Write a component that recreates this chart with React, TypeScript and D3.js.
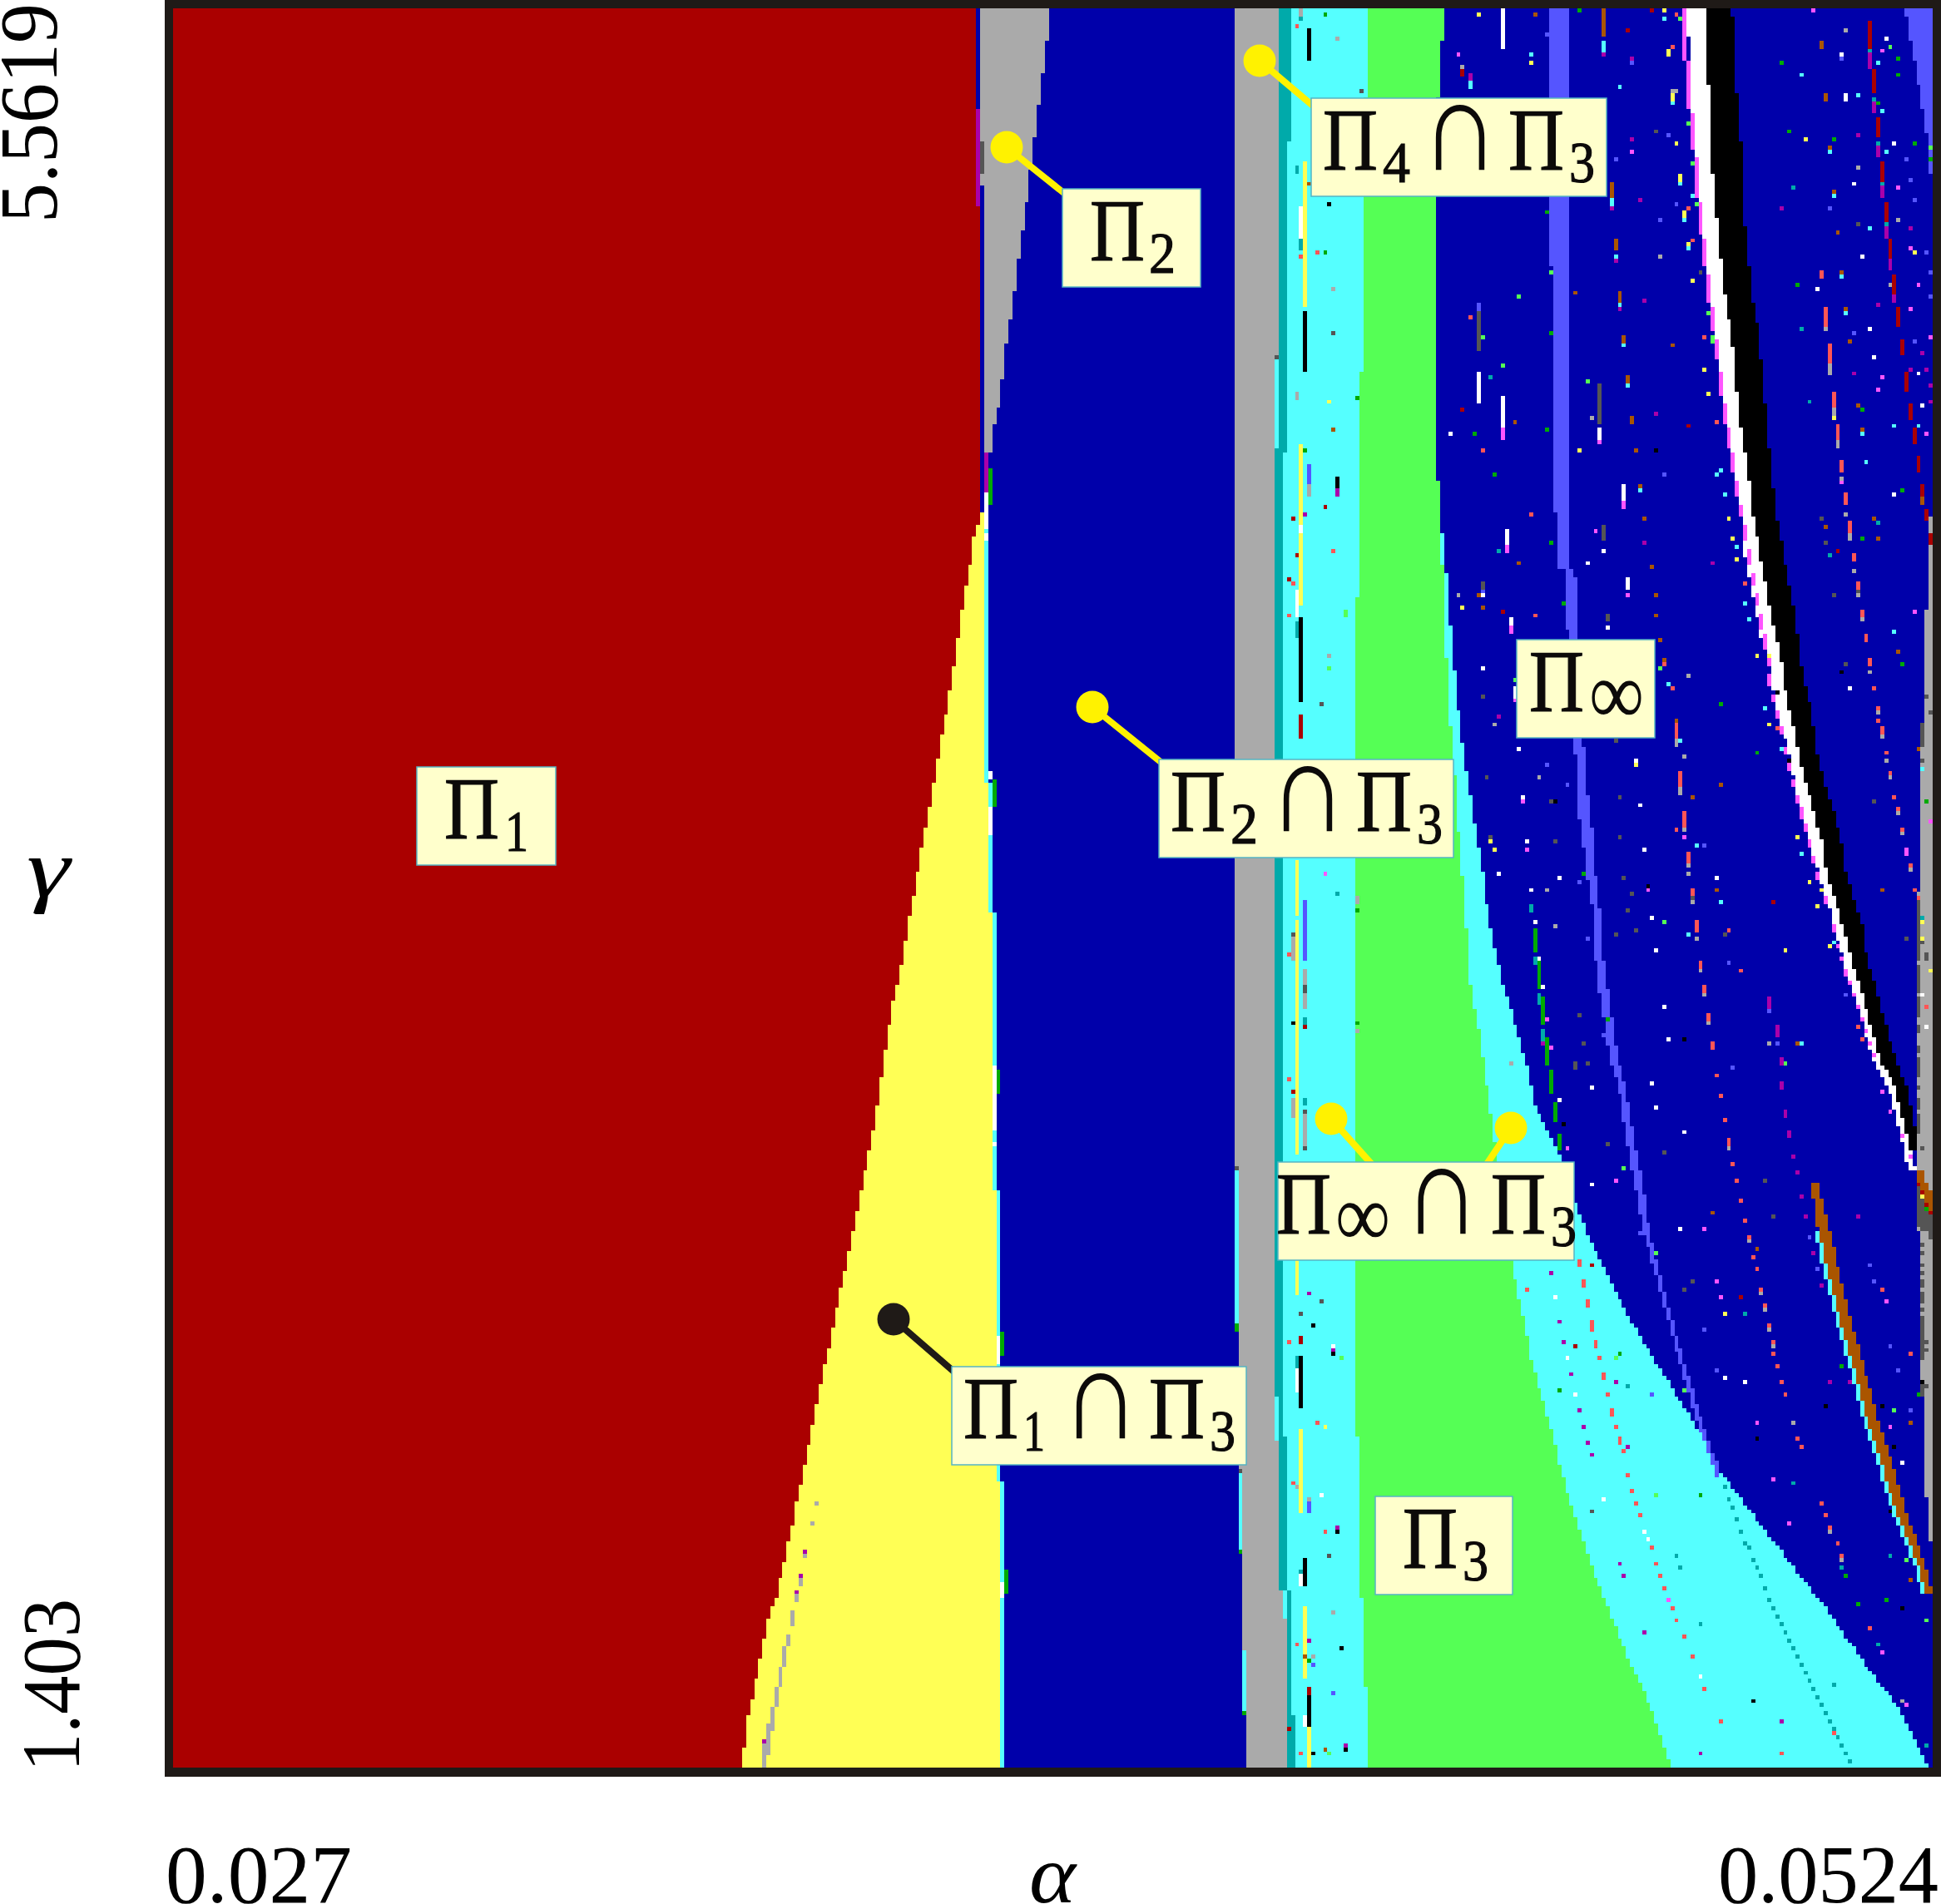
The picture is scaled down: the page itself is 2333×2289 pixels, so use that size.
import React from "react";
import * as d3 from "d3";

// parameter sweep: 436 x 436 samples, row 0 is the top (largest gamma)
const GRID = 436;
const alphaTicks = [0.027, 0.0524];
const gammaTicks = [5.5619, 1.403];
const alphaLabels = ["0.027", "0.0524"];
const gammaLabels = ["5.5619", "1.403"];

// region edges as [row, col]
const redEdge = [[0,199.3],[47.9,199.3],[48,200.3],[126,200.4],[131,198.5],[138,197.5],[149.5,195.4],[162.4,193.6],[173.6,191.7],[185,189.7],[196,187.8],[207,185.7],[218,183.9],[229,181.8],[240,180],[249,177.9],[261,176],[274,174.2],[285,172.1],[293.5,170.3],[304,168.2],[313,166.4],[323,164.3],[332,162.4],[341.6,160.4],[350.6,158.5],[360,156.7],[370,154.6],[379,152.8],[388,150.7],[393.7,149.7],[397.4,147.8],[406.7,146],[416.6,143.9],[425.9,142],[436,141]];
const yellowEdge = [[125,201.4],[190,201.4],[205,202.2],[270,203.2],[360,204.4],[395,205.1],[436,205.1]];
const wedgeLeft = [[0,200.3],[43.9,200.3],[44,201.3],[113,201.3]];
const wedgeRight = [[0,216.9],[5,216.9],[12,216],[20,215],[28.4,214],[35.5,213],[43.7,212.1],[50.7,211.1],[58,210],[65,209.2],[72,208.2],[79,207.2],[86,206.1],[93.4,205.3],[100.6,204.3],[105,203],[113,202.2]];
const gray2Left = [[0,262.6],[287.9,262.6],[288,263.7],[361.9,263.7],[362,264.7],[406.9,264.7],[407,265.5],[436,265.5]];
const gray2Right = [[0,274.4],[86.9,274.4],[87,273.3],[353.9,273.3],[354,274.4],[391.9,274.4],[392,275.6],[422.9,275.6],[423,276.2],[436,276.2]];
const tealRight = [[0,277.3],[32.9,277.3],[33,276.3],[109.9,276.3],[110,275.2],[353.9,275.2],[354,276.3],[391.9,276.3],[392,277.3],[422.9,277.3],[423,278.2],[436,278.2]];
const greenLeft = [[0,295.8],[21.9,295.8],[22,294.8],[89.9,294.8],[90,293.8],[145.9,293.8],[146,292.9],[353.9,292.9],[354,293.8],[393.9,293.8],[394,294.6],[415.9,294.6],[416,295.8],[436,295.8]];
const greenRight = [[0,315.2],[7.9,315.2],[8,314.3],[21.9,314.3],[22,313.3],[116.9,313.3],[117,314.3],[136,314.3],[143,315.2],[160,315.2],[162,316.2],[177,316.2],[179,317.2],[186,317.2],[213,319.1],[218,320.1],[228,320.1],[229,321.2],[241,321.2],[243,322],[247,322],[249,323],[255.6,323.8],[262.7,324.9],[270.4,325.9],[278,327.1],[311.2,332],[318.3,333],[321.9,333.9],[329,335.6],[336,336.7],[344.4,339.4],[353.8,341.9],[360.9,343.5],[368,345.5],[375.1,347.8],[385.8,351.4],[397.6,356],[409.4,360.7],[421.3,366.3],[429.6,369.2],[436,370.9]];
const cyanRight = [[0,313],[117,313],[136,315.2],[149.5,316.2],[160.4,317.2],[170.5,318.1],[179,319.1],[186,320.1],[193,321.2],[199.3,322],[205,323],[211.5,324],[216.6,324.9],[225.7,325.9],[243,329.8],[255.6,333.7],[262.7,335.6],[271,337.2],[282.8,343],[297,347.8],[306.5,351.7],[314.8,355.8],[326.6,362],[338.4,369.2],[350.3,376.8],[362.1,383.2],[373.9,391.9],[385.8,401.1],[397.6,410.4],[409.4,418.5],[421.3,427.7],[433.1,433.5],[436,435]];
const periLeft = [[0,340.5],[63.9,340.5],[64,341.6],[100.9,341.6],[101,342.4],[124.6,342.4],[124.7,343.4],[138.9,343.4],[139,344.5],[181,347.3],[199.9,348.3],[206.8,349.4],[213.8,350.2],[220.6,351.3],[227.4,352.3],[234.4,352.3],[241,353.1],[248,354.2],[255,355.2],[261,356.2],[267.4,358.2],[279.3,360],[291.1,362.1],[302.9,364.3],[314.8,367.7],[326.6,370.8],[338.4,374.1],[350.3,377.6],[362.1,382],[364.5,382.5]];
const periRight = [[0,346.3],[13.9,346.3],[14,345.5],[110.9,345.5],[111,346.3],[138.9,346.3],[139,347.4],[181,349.4],[193,350.2],[200,351.3],[213.8,352.3],[220.6,353.1],[227.4,354.2],[234.4,354.2],[241,355.2],[248,356.2],[255,357.1],[261,358.2],[267.4,360],[279.3,361.9],[291.1,364],[302.9,365.8],[314.8,368.7],[326.6,371.8],[338.4,375.3],[350.3,378.8],[362.1,383.2],[364.5,383.6]];
const blackLeft = [[0,379.5],[8.5,379.5],[19,380.5],[29.5,381.4],[40,381.4],[50.5,382.4],[61,383.4],[71.5,384.5],[82,386.3],[92.6,387.3],[103,388.3],[113.6,390.2],[124,391.2],[134.6,393.1],[145,395],[155.6,397.1],[158.7,398.1],[165.5,399],[172.6,400],[179.4,402],[186,403],[193,404.9],[200,406.7],[206.8,408.8],[213.8,409.6],[220.6,411.7],[227.4,413.7],[234.4,415.6],[241,417.5],[248,419.5],[255,421.4],[261,423.2],[267.4,426.6],[279.3,429.6],[288,431.8]];
const blackRight = [[0,386.3],[8.5,387.3],[19,387.3],[29.5,388.2],[40,389.2],[50.5,389.2],[61,390.2],[71.5,391.3],[82,393.1],[92.6,394],[103,395],[113.6,395.9],[124,397],[134.6,398.9],[145,401],[155.6,402.6],[165.5,403.8],[172.6,405.7],[179.4,406.7],[186,407.7],[193,409.6],[200,411.7],[206.8,413.5],[213.8,414.5],[220.6,416.4],[227.4,418.5],[234.4,419.5],[241,421.4],[248,423.2],[255,425.3],[261,427.1],[267.4,429.5],[279.3,431.9],[283.4,432]];
const whiteLeft = [[0,374.7],[8.5,375.7],[29.5,375.7],[29.6,376.8],[40,377.6],[50.6,378.6],[61,379.7],[71.7,380.7],[82,382.5],[92.7,383.6],[103,384.5],[113.8,386.4],[124.3,388.4],[135,389.4],[145.4,391.4],[155.9,393.3],[158.7,394.9],[165.6,396],[172.4,397.1],[179.3,398.9],[186.2,400.9],[193,402],[200,403.8],[206.8,405.7],[213.7,407.6],[220.6,409.7],[227.4,411.6],[234.3,413.5],[241.2,415.5],[248,417.5],[254.9,419.5],[261.1,421.3],[267.4,425],[279.3,428],[288,430]];
const brownLeft = [[290.5,405.7],[302.9,407.7],[314.8,410.4],[326.6,413.5],[338.4,416.8],[350.3,419.9],[362.1,423.7],[373.9,427.6],[385.8,432.4],[392.9,434.2]];
const brownRight = [[290.5,407.5],[302.9,410.4],[314.8,413.3],[326.6,416.2],[338.4,419.4],[350.3,422.6],[362.1,426.4],[373.9,429.9],[385.8,434.2],[392.9,436]];
const stripLeft = [[126,435],[148.9,435],[149,434],[177.9,434],[178,433],[218.9,433],[219,432],[302.9,432],[303,433],[343.9,433],[344,434],[368.9,434],[369,435],[380,435]];
const cornerLeft = [[0,429.2],[5.8,430],[11,431.1],[17,432.1],[23,433.2],[29.5,434.2],[33.6,435.2],[41,435.2]];
const fullRight = [[0,GRID],[GRID,GRID]];
const leftSide = [[0,0],[GRID,0]];

// stray sample cells: [col, row, run length]
const cellsYellow = [[323,1],[336,13],[404,32],[431,60],[372,33],[376,67],[379,89],[380,95],[385,126],[386,131],[387,136],[411,101],[319,148],[348,109],[392,160],[369,0],[371,21,2],[373,41,2],[374,50,2],[375,58],[370,10,2],[392,160],[395,160],[395,177],[402,205],[405,216],[408,218],[407,222],[410,232],[399,233],[326,206],[327,208],[362,187],[433,226],[433,230],[435,238],[286,97],[285,351],[384,323],[280,38,36],[279,108,20],[279,130,18],[278,211,14],[278,226,58],[278,310,9],[279,352,21],[280,396,18],[281,426,10],[433,294]];
const cellsCyan = [[371,23],[373,43],[374,52],[375,59],[336,11],[358,19],[403,16],[422,13],[417,21],[423,25],[424,35],[357,61],[376,46],[420,54],[426,103],[432,103],[419,112],[382,115],[383,114],[384,120],[387,133],[389,147],[390,151],[426,154],[369,2],[354,8,3],[321,18,2],[356,47,2],[358,73],[359,83],[360,93],[363,119],[411,46],[410,35],[413,66],[414,75],[418,105],[370,167],[394,173],[398,183],[433,188],[373,181],[377,207],[403,209],[383,221],[375,229],[411,231],[403,256],[263,288,38],[264,363,19],[273,87,22],[265,407,15],[275,392,7],[273,344,11]];
const cellsWhite = [[424,7],[413,11],[414,21,2],[426,33],[418,61],[407,69],[420,79],[421,86],[432,90],[433,98],[316,105],[426,120],[354,134],[350,137],[416,43],[329,0,10],[323,90,8],[329,96,8],[353,104,3],[359,118,4],[330,129,4],[360,141,3],[331,151,2],[324,145],[355,153],[324,163],[332,168,3],[333,183],[362,186],[334,195],[363,197],[335,206],[364,208],[328,214],[343,215],[382,215],[336,218],[366,225],[337,226],[367,233],[338,235],[339,242],[369,247],[370,255],[415,168],[433,244],[434,252],[279,49,8],[279,128,2],[278,144,7],[278,337,6],[279,388,3],[280,423,3],[287,331],[284,368],[364,377],[365,379],[378,413],[342,319],[345,334],[347,343],[354,369],[351,267],[366,266],[367,272],[374,278],[351,291],[373,302],[384,339],[389,340],[343,270],[428,360],[201,120,9],[201,130,2],[202,189,2],[202,198,7],[203,262,4],[203,266,12],[203,281],[204,329,7],[205,390,4]];
const cellsMagenta = [[318,11],[361,35],[423,10],[427,44],[430,59],[432,68],[430,74],[423,91],[422,94],[434,105],[352,129],[431,149],[406,0],[435,81],[329,104,3],[353,107],[359,122,2],[330,133,2],[360,145],[331,153,2],[413,117],[332,171],[334,196],[335,208],[365,218],[374,205],[340,250],[341,257],[435,201],[429,208,2],[285,214],[370,394],[379,302],[382,315],[383,319],[357,290],[345,282],[400,375],[392,350],[396,364],[423,407],[429,420],[424,320],[425,351],
  [374,0,13],[375,13,12],[376,26,9],[377,37,10],[378,48,8],[379,57,7],[380,66,7],[381,74,6],[382,82,5],[383,90,6],[384,98,5],[385,104,5],[386,110,5],[387,117,4],[388,123,3],[389,128,4],[390,134,4],[391,140,3],[392,145,3],[393,150,4],[394,155,4],[395,161,2],[395,165,3],[396,170,2],[397,174,2],[398,178,2],[399,183,2],[400,187,2],[401,191,2],[402,195,2],[403,198,3],[404,202,2],[405,206,2],[406,210,2],[407,214,2],[409,220,2],[411,227,2],[412,232],[413,235],[414,238,2],[415,241],[416,244],[417,247],[418,250],[419,253],[420,256],[421,259],[423,268],[425,273],[428,279],[430,284]];
const cellsPurple = [[361,32],[363,47],[361,12],[417,31],[398,49],[430,54],[364,72],[422,73],[433,85],[430,89],[434,89],[435,93],[435,97],[367,100],[381,137],[354,11],[356,49],[357,62],[358,74],[416,90],[364,132],[321,16,2],[420,11,4],[421,23,3],[422,34,3],[423,44,3],[424,54,3],[425,62,3],[426,71,2],[328,175],[339,256],[395,245,3],[397,252,3],[398,260,2],[288,119,2],[280,125],[281,318],[287,332],[288,376],[281,404],[290,430],[341,313],[343,325],[344,330],[346,338],[348,347],[349,351],[350,355],[351,358],[357,340],[360,356],[358,385],[359,388],[364,402],[378,432],[398,424],[398,266,2],[399,273,2],[400,278,2],[401,284],[402,288],[404,299],[417,299],[410,340],[415,340],[408,316],[406,308],[403,294],[201,110,10],[199,25,24],[156,382],[155,388],[154,392],[146,429]];
const cellsBlue = [[361,13],[413,12],[370,31],[357,37],[429,37],[368,52],[410,49],[430,42],[431,47],[372,48],[434,60],[435,65],[435,71],[416,80],[431,82],[369,115],[323,73,2],[324,144],[340,187],[345,192],[379,207],[348,216],[350,230],[385,236],[354,254],[414,244],[395,248],[397,256],[282,34,5],[281,113,5],[280,221,15],[281,370,3],[282,410],[287,417],[363,303],[379,327],[382,337],[420,311],[421,315],[405,304],[425,331],[427,337],[430,347],[407,312],[366,343],[386,262]];
const cellsDarkGreen = [[398,13],[427,12],[427,16],[411,32],[400,30],[431,33],[422,23],[435,37],[402,68],[340,50],[341,80],[340,104],[322,105],[327,115],[428,119],[341,132],[344,147],[428,162],[418,131],[418,99],[348,0],[383,172],[392,184],[349,214],[434,196],[355,250],[285,1],[285,60],[293,96],[280,109],[293,223],[293,251],[281,409],[343,342],[358,333],[378,368],[424,394],[417,395],[413,336],[432,343],[414,388],[434,297],[202,114,9],[203,191,7],[204,263,6],[205,328,6],[206,387,6],[263,326,2],[264,382],[265,422],[337,228,6],[338,236,7],[339,245,7],[340,255,7],[341,263,6],[342,271,5],[343,279,4]];
const cellsLightGreen = [[425,9],[333,71],[329,88],[350,92],[324,81],[341,65],[435,34],[373,2],[375,28],[376,38],[377,48],[380,75],[381,81,2],[368,163],[332,166],[369,226],[399,261],[286,163],[290,149,2],[289,334],[286,432],[357,334],[367,368],[374,342],[359,287],[367,308],[426,347],[429,384],[434,399]];
const cellsBrown = [[354,0,7],[356,43,4],[357,57,3],[358,70,3],[359,81,2],[360,91,2],[361,101,2],[408,8,2],[409,21,2],[337,1],[410,34],[411,45],[412,55],[413,65],[414,74],[415,82],[417,98],[418,104],[347,70],[332,102],[371,83],[362,109],[364,126],[409,128],[421,126],[422,131],[333,137],[366,138],[367,145],[367,150],[323,145],[324,148],[368,156],[363,118],[433,121,2],[427,159],[369,161],[372,176],[383,192],[376,195],[382,218],[423,218],[432,183],[402,256],[281,43],[287,104],[280,408],[285,431],[381,298],[392,307],[430,350],[430,389],[432,288,4],[433,288,5],[434,291,5],[435,293,5]];
const cellsRed = [[371,9],[375,49],[376,57],[408,65,2],[321,76],[336,125],[389,142],[337,150],[420,162],[372,1],[379,81],[382,102],[324,109],[369,162],[371,168],[397,178],[421,168],[372,203],[385,228],[388,238],[426,195],[431,218],[434,247],[417,252],[418,255],
  [409,74,5],[410,83,5],[411,95,4],[412,103,4],[413,112,3],[414,120,3],[415,127,3],[416,135,2],[417,142,2],[418,149,2],[419,155,2],[420,161,2],[422,173],[422,176],[423,178,2],[424,184],[425,189],[427,198],[428,203],[430,212],[432,220],[372,177,4],[373,189,4],[374,199,4],[375,209,3],[376,218,2],[377,226,3],[378,236,2],[379,242,2],[380,249,2],[381,256,2],
  [278,4],[279,61],[283,60],[287,134],[277,142],[276,150],[276,234],[276,265],[276,330],[283,350],[277,365],[285,377],[278,405],[279,432],[348,310,2],[349,315,2],[350,320,2],[351,325,3],[352,330,2],[353,334],[354,338,2],[355,343],[356,347,2],[357,351],[358,354,2],[359,357],[360,363],[361,367],[362,370],[363,373],[366,381],[367,385],[368,388],[369,391],[371,396],[372,399],[374,403],[376,408],[379,416],[383,424],[398,432],[411,427],[335,317],
  [382,264],[383,269],[384,275],[385,280,2],[386,286],[387,290],[388,295],[389,300],[390,304],[391,309],[392,312],[393,317],[394,321],[395,326],[396,330],[396,333],[397,336],[398,340],[399,343],[402,354],[403,356],[408,370],[409,373],[410,376],[412,380],[413,383],[420,401],[430,333],[423,317]];
const cellsDarkRed = [[360,5],[366,0],[375,103],[319,99],[329,149],[412,134],[319,15,2],[420,3,7],[421,15,6],[422,27,5],[423,38,5],[424,48,5],[425,57,5],[426,66,5],[427,74,5],[428,82,4],[429,90,5],[430,98,4],[431,104,4],[432,111,4],[433,118,3],[434,124,3],[435,130,3],[396,221],[285,123],[277,126],[278,135],[276,141],[279,175,6],[280,252],[281,416,2],[279,329,2],[277,268],[276,426],[347,331],[351,311],[388,319],[432,291],[433,293],[434,296],[435,298]];
const cellsDarkGray = [[367,30],[417,53],[378,65],[408,126],[409,132],[411,145],[323,75,10],[353,93,10],[354,128,4],[324,142,2],[355,150,2],[417,144],[414,162],[324,170],[325,190],[357,181],[358,195],[341,196],[421,196],[326,205],[342,206],[358,205],[359,215],[361,219],[360,223],[362,228],[357,229],[384,229],[429,230],[348,249],[349,256],[347,261],[350,261],[294,20],[287,80],[284,172],[277,229],[280,242,2],[280,273],[280,282],[284,320],[279,323],[286,383],[273,86],[263,287],[264,362],[351,372],[347,262],[355,281],[369,283],[376,315],[374,317],[396,299],[394,290],[376,220],
  [433,177,6],[433,186],[434,170],[435,174],[432,220,16],[432,237,7],[432,245,5],[432,252,2],[432,257,2],[432,260,2],[434,234,2],[433,231],[432,262,3],[432,267],[432,270,3],[432,274,5],[433,282],[432,292,10],[433,294,9],[434,298,5],[435,299,6],[433,306],[433,308],[433,311],[433,313],[433,315,2],[433,318,3],[433,322],[433,324,11],[434,330],[434,332],[433,340,4],[434,341],[200,33,8]];
const cellsGray = [[414,5],[371,20],[372,20],[368,61],[427,52],[425,68],[351,101],[414,125],[416,139],[318,145],[417,39],[319,14],[409,79],[410,88,3],[411,99,3],[412,107,2],[413,116],[415,130,2],[417,145],[418,151],[375,165],[327,177],[374,185],[338,190],[375,214],[340,218],[342,227],[395,256],[331,261],[372,181,2],[373,193,2],[374,203],[375,212],[376,221],[377,230],[378,238],[379,244],[380,251],[420,164],[422,174],[423,180],[424,186],[425,190],[427,199],[428,204],[430,213],[432,221],
  [282,39,3],[281,118,3],[279,0,2],[278,95,2],[288,7],[287,69],[286,160],[293,220,2],[293,253],[280,238,4],[280,244,4],[277,230,6],[277,270,5],[280,274,8],[281,369],[278,366],[287,397],[282,408],[385,282],[390,305],[393,318],[394,322],[395,327],[396,331],[401,350],[410,377],[413,384],[428,419],
  [159,370],[158,375],[156,383],[155,389,2],[154,393,2],[153,397,4],[152,403,3],[151,406,5],[150,411,5],[149,416,5],[148,421,6],[147,425,8],[146,430,6]];
const cellsTeal = [[401,44],[326,91],[403,79],[405,97],[422,127],[328,134],[410,135],[420,10],[421,22],[422,33],[423,43],[424,53],[336,222,2],[337,235,2],[338,244,3],[339,253,3],[433,225],[279,57,3],[278,39,2],[279,2],[278,152,4],[280,250,2],[278,334,3],[279,387],[280,270,2],[288,219],[360,341],[372,383],[373,386],[378,400],[411,415],[389,323],[401,365],[413,386],[422,405],[425,383],[434,430],
  [384,366],[385,369],[386,371],[387,374],[388,377],[389,380],[390,381],[391,384],[392,386],[393,388],[394,391],[395,394],[396,396],[397,398],[398,400],[399,402],[400,404],[401,406],[402,408],[403,410],[404,412],[405,414],[406,416],[407,418],[408,420],[409,422],[410,424],[411,426],[412,428],[413,430],[414,432],[415,434]];
const cellsBlack = [[367,109],[413,164],[397,169],[342,196],[400,186],[365,217],[374,255],[281,5,8],[280,75,15],[288,116,3],[286,48],[279,151,21],[277,251],[279,334,13],[280,384,7],[281,418,8],[282,326],[287,333],[288,377],[289,406],[290,431],[282,432],[391,419],[344,276],[409,346],[392,354],[423,346],[426,356],[425,372],[428,396],[433,340]];

const PAL = {
  red: "#aa0000", blue: "#0000aa", gray: "#aaaaaa", cyan: "#55ffff", green: "#55ff55",
  yellow: "#ffff55", teal: "#00aaaa", peri: "#5555ff", brown: "#aa5500", magenta: "#ff55ff",
  purple: "#aa00aa", darkGreen: "#00aa00", lightRed: "#ff5555", darkGray: "#555555",
};
const INK = "#1f1a17";
const PLOT = { left: 208, top: 10, right: 2323, bottom: 2125, border: 10 };

const xCell = d3.scaleLinear().domain([0, GRID]).range([PLOT.left, PLOT.right]);
const yCell = d3.scaleLinear().domain([0, GRID]).range([PLOT.top, PLOT.bottom]);
const xAlpha = d3.scaleLinear().domain(alphaTicks).range([PLOT.left, PLOT.right]);
const yGamma = d3.scaleLinear().domain(gammaTicks).range([PLOT.top, PLOT.bottom]);

const edge = (knots: number[][]) =>
  d3.scaleLinear().domain(knots.map((k) => k[0])).range(knots.map((k) => k[1])).clamp(true);

// one stair step per row, like the sweep that made the picture
function bandPath(left: number[][], right: number[][], from: number, to: number, rightShift = 0) {
  const l = edge(left);
  const r = right === left ? l : edge(right);
  const p = d3.path();
  d3.range(from, to).forEach((row) => {
    const a = Math.round(l(row + 0.5));
    const b = Math.round(r(row + 0.5)) + rightShift;
    if (b <= a) return;
    p.rect(xCell(a), yCell(row), xCell(b) - xCell(a), yCell(row + 1) - yCell(row));
  });
  return p.toString();
}

function cellsPath(cells: number[][]) {
  const p = d3.path();
  cells.forEach(([col, row, len = 1]) => {
    p.rect(xCell(col), yCell(row), xCell(col + 1) - xCell(col), yCell(row + len) - yCell(row));
  });
  return p.toString();
}

const bands: [string, string][] = [
  [PAL.red, bandPath(leftSide, redEdge, 0, GRID)],
  [PAL.yellow, bandPath(redEdge, yellowEdge, 125, GRID)],
  [PAL.cyan, bandPath(yellowEdge, yellowEdge, 125, GRID, 1)],
  [PAL.gray, bandPath(wedgeLeft, wedgeRight, 0, 113)],
  [PAL.gray, bandPath(gray2Left, gray2Right, 0, GRID)],
  [PAL.cyan, bandPath(gray2Right, cyanRight, 0, GRID)],
  [PAL.teal, bandPath(gray2Right, tealRight, 0, GRID)],
  [PAL.green, bandPath(greenLeft, greenRight, 0, GRID)],
  [PAL.peri, bandPath(periLeft, periRight, 0, 364)],
  [PAL.peri, bandPath(cornerLeft, fullRight, 0, 41)],
  ["#ffffff", bandPath(whiteLeft, blackLeft, 0, 288)],
  ["#000000", bandPath(blackLeft, blackRight, 0, 283)],
  [PAL.gray, bandPath(stripLeft, fullRight, 126, 380)],
  [PAL.cyan, bandPath(brownLeft.map(([r, c]) => [r, c - 1]), brownLeft, 303, 393)],
  [PAL.brown, bandPath(brownLeft, brownRight, 291, 393)],
];

const strayCells: [string, number[][]][] = [
  [PAL.gray, cellsGray], [PAL.darkGray, cellsDarkGray], [PAL.cyan, cellsCyan], [PAL.yellow, cellsYellow],
  ["#ffffff", cellsWhite], [PAL.magenta, cellsMagenta], [PAL.purple, cellsPurple], [PAL.peri, cellsBlue],
  [PAL.darkGreen, cellsDarkGreen], [PAL.green, cellsLightGreen], [PAL.brown, cellsBrown], [PAL.lightRed, cellsRed],
  [PAL.red, cellsDarkRed], [PAL.teal, cellsTeal], ["#000000", cellsBlack],
];

// annotation layout in page pixels: box, glyph runs (offset, width), pin and leader end
const PI = "\u03a0";
const CAP = "\u2229";
const INF = "\u221e";
const triple = (a: string, aw = 33) => [
  { t: PI, dx: 14, w: 66 }, { t: a, dx: 86, w: aw, sub: true },
  { t: CAP, dx: 132, w: 94, cap: true }, { t: PI, dx: 237, w: 67 }, { t: "3", dx: 310, w: 31, sub: true },
];
const labels = [
  { x: 501, y: 922, w: 167, runs: [{ t: PI, dx: 33, w: 66 }, { t: "1", dx: 106, w: 28, sub: true }] },
  { x: 1277, y: 227, w: 166, runs: [{ t: PI, dx: 33, w: 66 }, { t: "2", dx: 104, w: 32, sub: true }] },
  { x: 1576, y: 118, w: 355, runs: triple("4"), pin: [1514, 73], end: [1585, 133], color: "#fff200" },
  { x: 1393, y: 913, w: 354, runs: triple("2"), pin: [1313, 850], end: [1400, 920], color: "#fff200" },
  { x: 1823, y: 769, w: 166, runs: [{ t: PI, dx: 15, w: 66 }, { t: INF, dx: 87, w: 66, sub: true, inf: true }] },
  { x: 1653, y: 1799, w: 165, runs: [{ t: PI, dx: 33, w: 66 }, { t: "3", dx: 105, w: 31, sub: true }] },
  { x: 1144, y: 1643, w: 354, runs: triple("1", 26), pin: [1074, 1586], end: [1150, 1652], color: INK },
  {
    x: 1536, y: 1397, w: 356,
    runs: [
      { t: PI, dx: -2, w: 66 }, { t: INF, dx: 69, w: 66, sub: true, inf: true },
      { t: CAP, dx: 151, w: 92, cap: true }, { t: PI, dx: 256, w: 66 }, { t: "3", dx: 328, w: 31, sub: true },
    ],
  },
];
const BOX_H = 118;
const pins = [
  { pin: [1210, 177], end: [1290, 241], color: "#fff200" },
  { pin: [1600, 1345], end: [1650, 1401], color: "#fff200" },
  { pin: [1816, 1356], end: [1786, 1401], color: "#fff200" },
  ...labels.filter((d) => d.pin),
];

const SERIF = "'Liberation Serif', 'DejaVu Serif', serif";

export default function App() {
  return (
    <svg
      width={2333}
      height={2289}
      style={{ position: "absolute", left: 0, top: 0, display: "block", background: "#fff" }}
      fontFamily={SERIF}
    >
      <rect
        x={PLOT.left - PLOT.border}
        y={PLOT.top - PLOT.border}
        width={PLOT.right - PLOT.left + 2 * PLOT.border}
        height={PLOT.bottom - PLOT.top + 2 * PLOT.border + 1}
        fill={INK}
      />
      <g shapeRendering="crispEdges">
        <rect
          x={PLOT.left}
          y={PLOT.top}
          width={PLOT.right - PLOT.left}
          height={PLOT.bottom - PLOT.top}
          fill={PAL.blue}
        />
        {bands.map(([fill, d], i) => (
          <path key={i} d={d} fill={fill} />
        ))}
        {strayCells.map(([fill, cells], i) => (
          <path key={i} d={cellsPath(cells)} fill={fill} />
        ))}
      </g>

      {pins.map((d, i) => (
        <g key={i}>
          <line x1={d.pin![0]} y1={d.pin![1]} x2={d.end![0]} y2={d.end![1]} stroke={d.color} strokeWidth={8} />
          <circle cx={d.pin![0]} cy={d.pin![1]} r={19.5} fill={d.color} />
        </g>
      ))}

      {labels.map((d, i) => (
        <g key={i}>
          <rect x={d.x} y={d.y} width={d.w} height={BOX_H} fill="#ffffcc" stroke="#55b4c4" strokeWidth={1.5} />
          {d.runs.map((run: any, j: number) => (
            <text
              key={j}
              x={d.x + run.dx}
              y={d.y + (run.inf ? 101 : run.sub ? 101 : 86)}
              fontSize={run.inf ? 108 : run.sub ? 70 : run.cap ? 155 : 106}
              textLength={run.w}
              lengthAdjust="spacingAndGlyphs"
              fill="#0c0a09"
              stroke={run.cap || run.inf ? "none" : "#0c0a09"}
              strokeWidth={1.2}
            >
              {run.t}
            </text>
          ))}
        </g>
      ))}

      {alphaLabels.map((label, i) => (
        <text
          key={label}
          x={i === 0 ? xAlpha(alphaTicks[i]) - 9 : xAlpha(alphaTicks[i]) + 7}
          y={2287}
          fontSize={100}
          textAnchor={i === 0 ? "start" : "end"}
          textLength={i === 0 ? 224 : 265}
          lengthAdjust="spacingAndGlyphs"
        >
          {label}
        </text>
      ))}
      <text x={1237} y={2287} fontSize={100} fontStyle="italic" textLength={56} lengthAdjust="spacingAndGlyphs">
        {"\u03b1"}
      </text>

      {gammaLabels.map((label, i) => (
        <text
          key={label}
          transform={i === 0 ? `translate(68,${yGamma(gammaTicks[i]) + 258}) rotate(-90)` : `translate(95,${yGamma(gammaTicks[i]) + 5}) rotate(-90)`}
          fontSize={100}
          textLength={i === 0 ? 264 : 208}
          lengthAdjust="spacingAndGlyphs"
        >
          {label}
        </text>
      ))}
      <text x={32} y={1078} fontSize={100} fontStyle="italic" textLength={52} lengthAdjust="spacingAndGlyphs">
        {"\u03b3"}
      </text>
    </svg>
  );
}
